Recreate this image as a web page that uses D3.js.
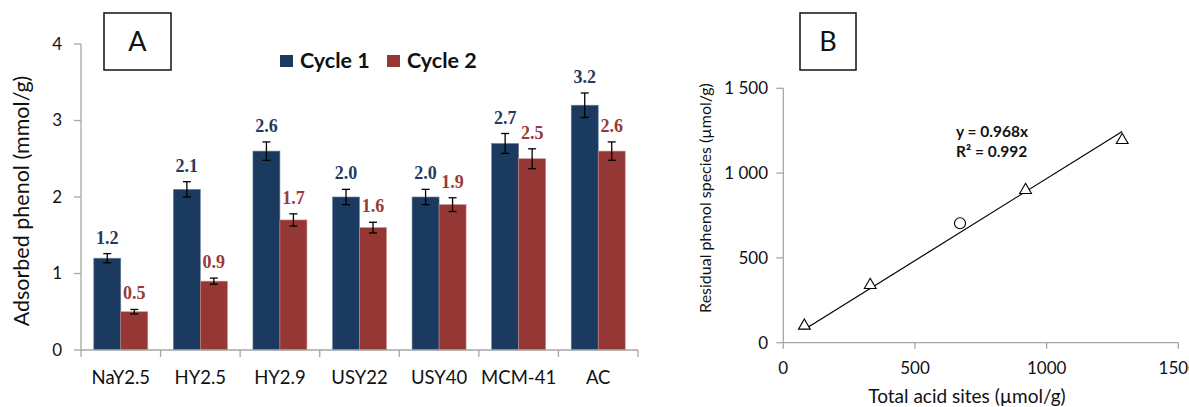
<!DOCTYPE html>
<html><head><meta charset="utf-8">
<script src="https://cdn.jsdelivr.net/npm/d3@7"></script>
<style>
html,body{margin:0;padding:0;background:#fff;}
svg{display:block;}
text{font-family:Lato,"Open Sans",sans-serif;}
text.val{font-family:"Liberation Serif","DejaVu Serif",serif;font-weight:bold;}
</style></head>
<body>
<svg id="c" width="1189" height="407"></svg>
<script>
// ---- Panel A data ----
const categories = ["NaY2.5","HY2.5","HY2.9","USY22","USY40","MCM-41","AC"];
const cycle1 = [1.2, 2.1, 2.6, 2.0, 2.0, 2.7, 3.2];
const cycle2 = [0.5, 0.9, 1.7, 1.6, 1.9, 2.5, 2.6];
const err1 = [0.06, 0.10, 0.12, 0.10, 0.10, 0.13, 0.16];
const err2 = [0.03, 0.04, 0.08, 0.07, 0.09, 0.13, 0.12];
const seriesNames = ["Cycle 1","Cycle 2"];
const yTicksA = [0,1,2,3,4];

// ---- Panel B data ----
const triX = [80, 330, 920, 1287];
const triY = [100, 340, 900, 1195];
const circX = [671];
const circY = [704];
const slope = 0.968;
const r2 = 0.992;
const xTicksB = [0,500,1000,1500];
const yTicksB = [0,500,1000,1500];
const yTickLabelsB = ["0","500","1 000","1 500"];

const svg = d3.select("#c");
const axisCol = "#a6a6a6";
const blue = "#1b3a60", red = "#953735";
const blueTxt = "#1f3b63", redTxt = "#983a38";

// ================= Panel A =================
const xA = d3.scaleBand().domain(categories).range([81, 638]);
const xSub = d3.scaleBand().domain(seriesNames).range([0, xA.bandwidth()]).paddingOuter(0.474);
const yA = d3.scaleLinear().domain([0,4]).range([350,44]);

const gA = svg.append("g");
// y axis
gA.append("line").attr("x1",81).attr("x2",81).attr("y1",yA(4)).attr("y2",yA(0)).attr("stroke",axisCol).attr("stroke-width",1.3);
yTicksA.forEach(t=>{
  gA.append("line").attr("x1",74).attr("x2",81).attr("y1",yA(t)).attr("y2",yA(t)).attr("stroke",axisCol).attr("stroke-width",1.3);
  gA.append("text").attr("x",62).attr("y",yA(t)).attr("dy","0.35em").attr("text-anchor","end")
    .attr("font-size",17).attr("fill","#111").text(t);
});
// bars
const series = [cycle1, cycle2], errs = [err1, err2], cols=[blue, red], tcols=[blueTxt, redTxt];
series.forEach((vals, si)=>{
  vals.forEach((v, i)=>{
    const x0 = xA(categories[i]) + xSub(seriesNames[si]);
    const w = xSub.bandwidth();
    gA.append("rect").attr("x",x0).attr("y",yA(v)).attr("width",w).attr("height",yA(0)-yA(v))
      .attr("fill",cols[si]).attr("stroke", si===0?"#6f83a0":"#c48a88").attr("stroke-width",0.6);
  });
});
// x axis
gA.append("line").attr("x1",81).attr("x2",638).attr("y1",350).attr("y2",350).attr("stroke",axisCol).attr("stroke-width",1.3);
categories.concat([null]).forEach((c,i)=>{
  const xx = c===null ? xA.range()[1] : xA(c);
  gA.append("line").attr("x1",xx).attr("x2",xx).attr("y1",350).attr("y2",357).attr("stroke",axisCol).attr("stroke-width",1.3);
});
categories.forEach(c=>{
  gA.append("text").attr("x",xA(c)+xA.bandwidth()/2).attr("y",384).attr("text-anchor","middle")
    .attr("font-size",18.5).attr("fill","#111").text(c);
});
// error bars + labels
series.forEach((vals, si)=>{
  vals.forEach((v,i)=>{
    const cx = xA(categories[i]) + xSub(seriesNames[si]) + xSub.bandwidth()/2;
    const e = errs[si][i];
    const yt = yA(v+e), yb = yA(v-e);
    gA.append("line").attr("x1",cx).attr("x2",cx).attr("y1",yt).attr("y2",yb).attr("stroke","#000").attr("stroke-width",1.3);
    [yt,yb].forEach(yy=>gA.append("line").attr("x1",cx-4).attr("x2",cx+4).attr("y1",yy).attr("y2",yy).attr("stroke","#000").attr("stroke-width",1.3));
    gA.append("text").attr("class","val").attr("x",cx).attr("y",yt-10).attr("text-anchor","middle")
      .attr("font-size",18).attr("fill",tcols[si]).text(v.toFixed(1));
  });
});
// y title
gA.append("text").attr("transform","translate(29,201) rotate(-90)").attr("text-anchor","middle")
  .attr("font-size",21.5).attr("fill","#111").text("Adsorbed phenol (mmol/g)");
// legend
const legX = [280, 387];
seriesNames.forEach((n,i)=>{
  gA.append("rect").attr("x",legX[i]).attr("y",55).attr("width",13).attr("height",12).attr("fill",cols[i]);
  gA.append("text").attr("x",legX[i]+20).attr("y",68).attr("font-size",21.5).attr("font-weight","bold").attr("fill","#111").text(n);
});
// box A
gA.append("rect").attr("x",104).attr("y",13).attr("width",67).attr("height",57).attr("fill","none").attr("stroke","#111").attr("stroke-width",1.5);
gA.append("text").attr("x",137.5).attr("y",51).attr("text-anchor","middle").attr("font-size",27).attr("fill","#111").text("A");

// ================= Panel B =================
const xB = d3.scaleLinear().domain([0,1500]).range([783.3,1178.3]);
const yB = d3.scaleLinear().domain([0,1500]).range([342.7,88.3]);
const gB = svg.append("g");
gB.append("line").attr("x1",xB(0)).attr("x2",xB(0)).attr("y1",yB(1500)).attr("y2",yB(0)).attr("stroke",axisCol).attr("stroke-width",1.3);
gB.append("line").attr("x1",xB(0)).attr("x2",xB(1500)).attr("y1",yB(0)).attr("y2",yB(0)).attr("stroke",axisCol).attr("stroke-width",1.3);
yTicksB.forEach((t,i)=>{
  gB.append("line").attr("x1",xB(0)-7).attr("x2",xB(0)).attr("y1",yB(t)).attr("y2",yB(t)).attr("stroke",axisCol).attr("stroke-width",1.3);
  gB.append("text").attr("x",768).attr("y",yB(t)).attr("dy","0.35em").attr("text-anchor","end")
    .attr("font-size",17).attr("fill","#111").text(yTickLabelsB[i]);
});
xTicksB.forEach(t=>{
  gB.append("line").attr("x1",xB(t)).attr("x2",xB(t)).attr("y1",yB(0)).attr("y2",yB(0)+6).attr("stroke",axisCol).attr("stroke-width",1.3);
  gB.append("text").attr("x",xB(t)).attr("y",374).attr("text-anchor","middle")
    .attr("font-size",17).attr("fill","#111").text(t);
});
// trendline
const allX = triX.concat(circX);
const xmin = d3.min(allX), xmax = d3.max(allX);
gB.append("line").attr("x1",xB(xmin)).attr("y1",yB(slope*xmin)).attr("x2",xB(xmax)).attr("y2",yB(slope*xmax))
  .attr("stroke","#000").attr("stroke-width",1.2);
// markers
const tri = d3.symbol().type(d3.symbolTriangle).size(60);
triX.forEach((x,i)=>{
  gB.append("path").attr("d",tri()).attr("transform",`translate(${xB(x)},${yB(triY[i])})`)
    .attr("fill","#fff").attr("stroke","#000").attr("stroke-width",1.1);
});
circX.forEach((x,i)=>{
  gB.append("circle").attr("cx",xB(x)).attr("cy",yB(circY[i])).attr("r",5.5)
    .attr("fill","#fff").attr("stroke","#000").attr("stroke-width",1.1);
});
// equation
gB.append("text").attr("x",956).attr("y",137).attr("font-size",15.5).attr("font-weight","bold").attr("fill","#111").text(`y = ${slope}x`);
gB.append("text").attr("x",956).attr("y",157).attr("font-size",15.5).attr("font-weight","bold").attr("fill","#111").text(`R² = ${r2}`);
// titles
gB.append("text").attr("x",967).attr("y",403).attr("text-anchor","middle").attr("font-size",19).attr("fill","#111").text("Total acid sites (µmol/g)");
gB.append("text").attr("transform","translate(711,198) rotate(-90)").attr("text-anchor","middle")
  .attr("font-size",16).attr("fill","#111").text("Residual phenol species (µmol/g)");
// box B
gB.append("rect").attr("x",800).attr("y",13).attr("width",56).attr("height",57).attr("fill","none").attr("stroke","#111").attr("stroke-width",1.5);
gB.append("text").attr("x",828).attr("y",51).attr("text-anchor","middle").attr("font-size",27).attr("fill","#111").text("B");
</script>
</body></html>
